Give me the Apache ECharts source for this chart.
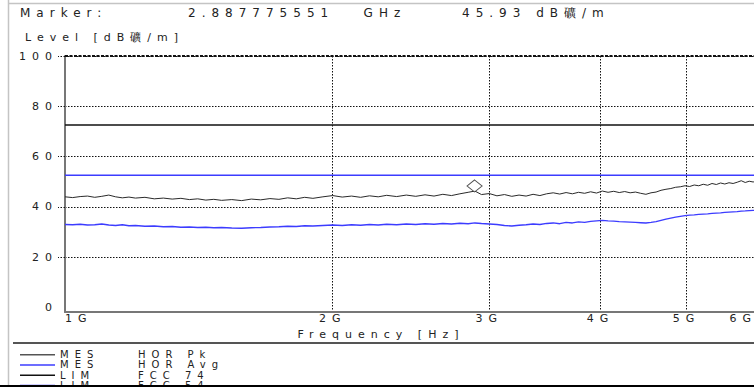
<!DOCTYPE html>
<html>
<head>
<meta charset="utf-8">
<script src="https://cdn.jsdelivr.net/npm/echarts@6/dist/echarts.min.js"></script>
<style>
html,body{margin:0;padding:0;background:#fff;}
#main{width:754px;height:387px;}
#main text{letter-spacing:6px;}
</style>
</head>
<body>
<div id="main"></div>
<script>
// ---- data ----
const freqGHz = [1.00,1.02,1.04,1.06,1.08,1.10,1.12,1.14,1.16,1.18,1.20,1.23,1.26,1.29,1.32,1.35,1.38,1.41,1.44,1.47,1.50,1.54,1.58,1.62,1.66,1.70,1.74,1.78,1.82,1.86,1.90,1.95,2.00,2.05,2.10,2.15,2.20,2.25,2.30,2.36,2.42,2.48,2.54,2.60,2.66,2.72,2.78,2.84,2.89,2.94,3.00,3.06,3.12,3.18,3.24,3.30,3.36,3.42,3.48,3.54,3.60,3.66,3.72,3.78,3.84,3.90,3.96,4.02,4.08,4.14,4.20,4.26,4.32,4.38,4.44,4.50,4.56,4.62,4.68,4.74,4.80,4.86,4.92,4.98,5.04,5.10,5.16,5.22,5.28,5.34,5.40,5.46,5.52,5.58,5.64,5.70,5.76,5.82,5.88,5.94,6.00];
const peakLevel = [44.0,43.7,44.1,44.3,43.8,44.2,44.7,44.0,43.6,43.9,43.5,43.8,43.2,43.5,43.1,43.4,42.9,43.2,42.7,43.0,42.6,42.9,42.5,43.1,42.8,43.3,43.0,43.6,43.2,43.8,43.4,44.0,44.5,43.9,44.3,43.8,44.4,44.0,44.6,44.1,44.7,44.2,44.8,44.3,45.0,44.5,45.2,45.8,46.3,44.9,45.3,44.4,44.9,44.2,44.7,44.3,45.0,44.5,45.2,45.6,45.1,45.7,45.2,45.8,45.4,46.0,45.5,46.3,45.8,46.2,45.7,46.1,45.6,45.9,45.4,45.0,45.6,45.9,46.6,47.0,47.3,47.8,48.0,48.4,48.1,48.7,48.4,49.0,48.6,49.3,48.9,49.5,49.1,49.6,49.3,49.8,50.4,49.7,50.2,49.9,50.3];
const avgLevel = [33.0,32.9,33.1,32.8,32.9,33.2,32.8,32.6,32.9,32.5,32.6,32.3,32.4,32.1,32.2,31.9,32.0,31.8,31.9,31.7,31.8,31.6,31.5,31.7,31.8,32.0,32.1,32.3,32.2,32.5,32.4,32.6,32.8,32.6,32.9,32.7,33.0,32.8,33.1,32.9,33.2,33.0,33.3,33.1,33.4,33.2,33.5,33.3,33.6,33.4,33.2,33.0,32.6,32.4,32.7,32.9,33.2,33.0,33.4,33.6,33.3,33.8,33.6,34.0,33.8,34.2,34.4,34.6,34.4,34.3,34.1,34.0,33.9,33.8,33.7,33.6,33.8,34.1,34.6,35.1,35.5,35.9,36.2,36.5,36.7,36.8,37.0,37.1,37.2,37.4,37.5,37.6,37.8,37.9,38.0,38.1,38.3,38.4,38.5,38.6,38.7];
const limitFreq = [1, 6];
const limitPk = [72.6, 72.6];
const limitAvg = [52.6, 52.6];
const markerFreq = 2.887775551;
const markerLevel = 45.93;
const xTickValues = [1, 2, 3, 4, 5, 6];
const xTickLabels = ['1G', '2G', '3G', '4G', '5G', '6G'];
const yLabelValues = [0, 20, 40, 60, 80, 100];
const yGridValues = [20, 40, 60, 80, 100];
const seriesNames = ['MES HOR Pk', 'MES HOR Avg', 'LIM FCC 74', 'LIM FCC 54'];

// ---- chart ----
const FONT = 'DejaVu Sans';
const chart = echarts.init(document.getElementById('main'), null, {renderer: 'svg', width: 754, height: 387});
const pairs = (xs, ys) => xs.map((x, i) => [x, ys[i]]);
const dotted = {color: '#111', width: 1, type: [1.5, 1.5]};

const option = {
  animation: false,
  backgroundColor: '#fff',
  textStyle: {fontFamily: FONT},
  grid: {left: 65, right: -3, top: 56, bottom: 75, containLabel: false, outerBoundsMode: 'none'},
  xAxis: {
    type: 'log', logBase: 10, min: 1, max: 6,
    axisLine: {show: true, onZero: false, lineStyle: {color: '#777', width: 2}},
    axisTick: {show: false, customValues: xTickValues},
    axisLabel: {
      customValues: xTickValues, margin: 1, fontFamily: FONT, fontSize: 11, color: '#222',
      alignMinLabel: 'left', alignMaxLabel: 'right',
      formatter: v => xTickLabels[xTickValues.indexOf(Math.round(v))]
    },
    splitLine: {show: true, lineStyle: dotted},
    name: 'Frequency [Hz]', nameLocation: 'middle', nameGap: 11,
    nameTextStyle: {fontFamily: FONT, fontSize: 11, color: '#222', padding: [0, 60, 0, 0]}
  },
  yAxis: {
    type: 'value', min: -1.8, max: 100,
    axisLine: {show: true, lineStyle: {color: '#777', width: 2}},
    axisTick: {show: true, length: 7, customValues: yGridValues, lineStyle: dotted},
    axisLabel: {customValues: yLabelValues, margin: 7, fontFamily: FONT, fontSize: 11, color: '#222',
      formatter: v => String(Math.round(v))},
    splitLine: {show: true, lineStyle: dotted}
  },
  legend: {
    orient: 'vertical', left: 15, top: 344.5, height: 80, itemWidth: 35, itemHeight: 1.5, itemGap: 0,
    icon: 'rect', selectedMode: false, data: seriesNames,
    formatter: name => {
      const i = name.indexOf(' ');
      return '{a|' + name.slice(0, i) + '}{b|' + name.slice(i + 1) + '}';
    },
    textStyle: {
      color: '#222', fontFamily: FONT, fontSize: 10, lineHeight: 10.3,
      rich: {
        a: {width: 78, fontFamily: FONT, fontSize: 10, lineHeight: 10.3, color: '#222'},
        b: {fontFamily: FONT, fontSize: 10, lineHeight: 10.3, color: '#222'}
      }
    }
  },
  series: [
    {
      name: seriesNames[0], type: 'line', symbol: 'none', showSymbol: false, z: 4,
      lineStyle: {color: '#2a2a2a', width: 1}, itemStyle: {color: '#555'},
      data: pairs(freqGHz, peakLevel),
      markLine: {silent: true, symbol: 'none', label: {show: false},
        lineStyle: {color: '#111', width: 2, type: [3, 1.5]}, data: [{yAxis: 100}]}
    },
    {
      name: seriesNames[1], type: 'line', symbol: 'none', showSymbol: false, z: 4,
      lineStyle: {color: '#3c3cff', width: 1.3}, itemStyle: {color: '#3c3cff'},
      data: pairs(freqGHz, avgLevel)
    },
    {
      name: seriesNames[2], type: 'line', symbol: 'none', showSymbol: false, z: 3,
      lineStyle: {color: '#111', width: 1.5}, itemStyle: {color: '#111'},
      data: pairs(limitFreq, limitPk)
    },
    {
      name: seriesNames[3], type: 'line', symbol: 'none', showSymbol: false, z: 3,
      lineStyle: {color: '#3c3cff', width: 1.5}, itemStyle: {color: '#3c3cff'},
      data: pairs(limitFreq, limitAvg)
    },
    {
      name: 'Marker', type: 'scatter', z: 6,
      symbol: 'diamond', symbolSize: [15, 12], symbolOffset: [0, -6],
      itemStyle: {color: '#fff', borderColor: '#222', borderWidth: 1},
      data: [[markerFreq, markerLevel]]
    }
  ],
  graphic: [
    {type: 'line', z: 50, shape: {x1: 8.5, y1: 0, x2: 8.5, y2: 387}, style: {stroke: '#c4c4c4', lineWidth: 1.5}},
    {type: 'line', z: 50, shape: {x1: 8, y1: 3.5, x2: 754, y2: 3.5}, style: {stroke: '#c4c4c4', lineWidth: 1.5}},
    {type: 'line', z: 50, shape: {x1: 13, y1: 343, x2: 754, y2: 343}, style: {stroke: '#555', lineWidth: 2}},
    {type: 'rect', z: 100, shape: {x: 0, y: 385, width: 754, height: 2}, style: {fill: '#000'}},
    {type: 'text', z: 50, x: 20, y: 13, style: {text: 'Marker:', font: '12px "DejaVu Sans"', fill: '#222', align: 'left', verticalAlign: 'middle'}},
    {type: 'text', z: 50, x: 188, y: 13, style: {text: '2.887775551\u00a0\u00a0\u00a0GHz', font: '12px "DejaVu Sans"', fill: '#222', align: 'left', verticalAlign: 'middle'}},
    {type: 'text', z: 50, x: 462, y: 13, style: {text: '45.93 dB礦/m', font: '12px "DejaVu Sans"', fill: '#222', align: 'left', verticalAlign: 'middle'}},
    {type: 'text', z: 50, x: 25, y: 37, style: {text: 'Level [dB礦/m]', font: '11px "DejaVu Sans"', fill: '#222', align: 'left', verticalAlign: 'middle'}}
  ]
};
chart.setOption(option);
</script>
</body>
</html>
